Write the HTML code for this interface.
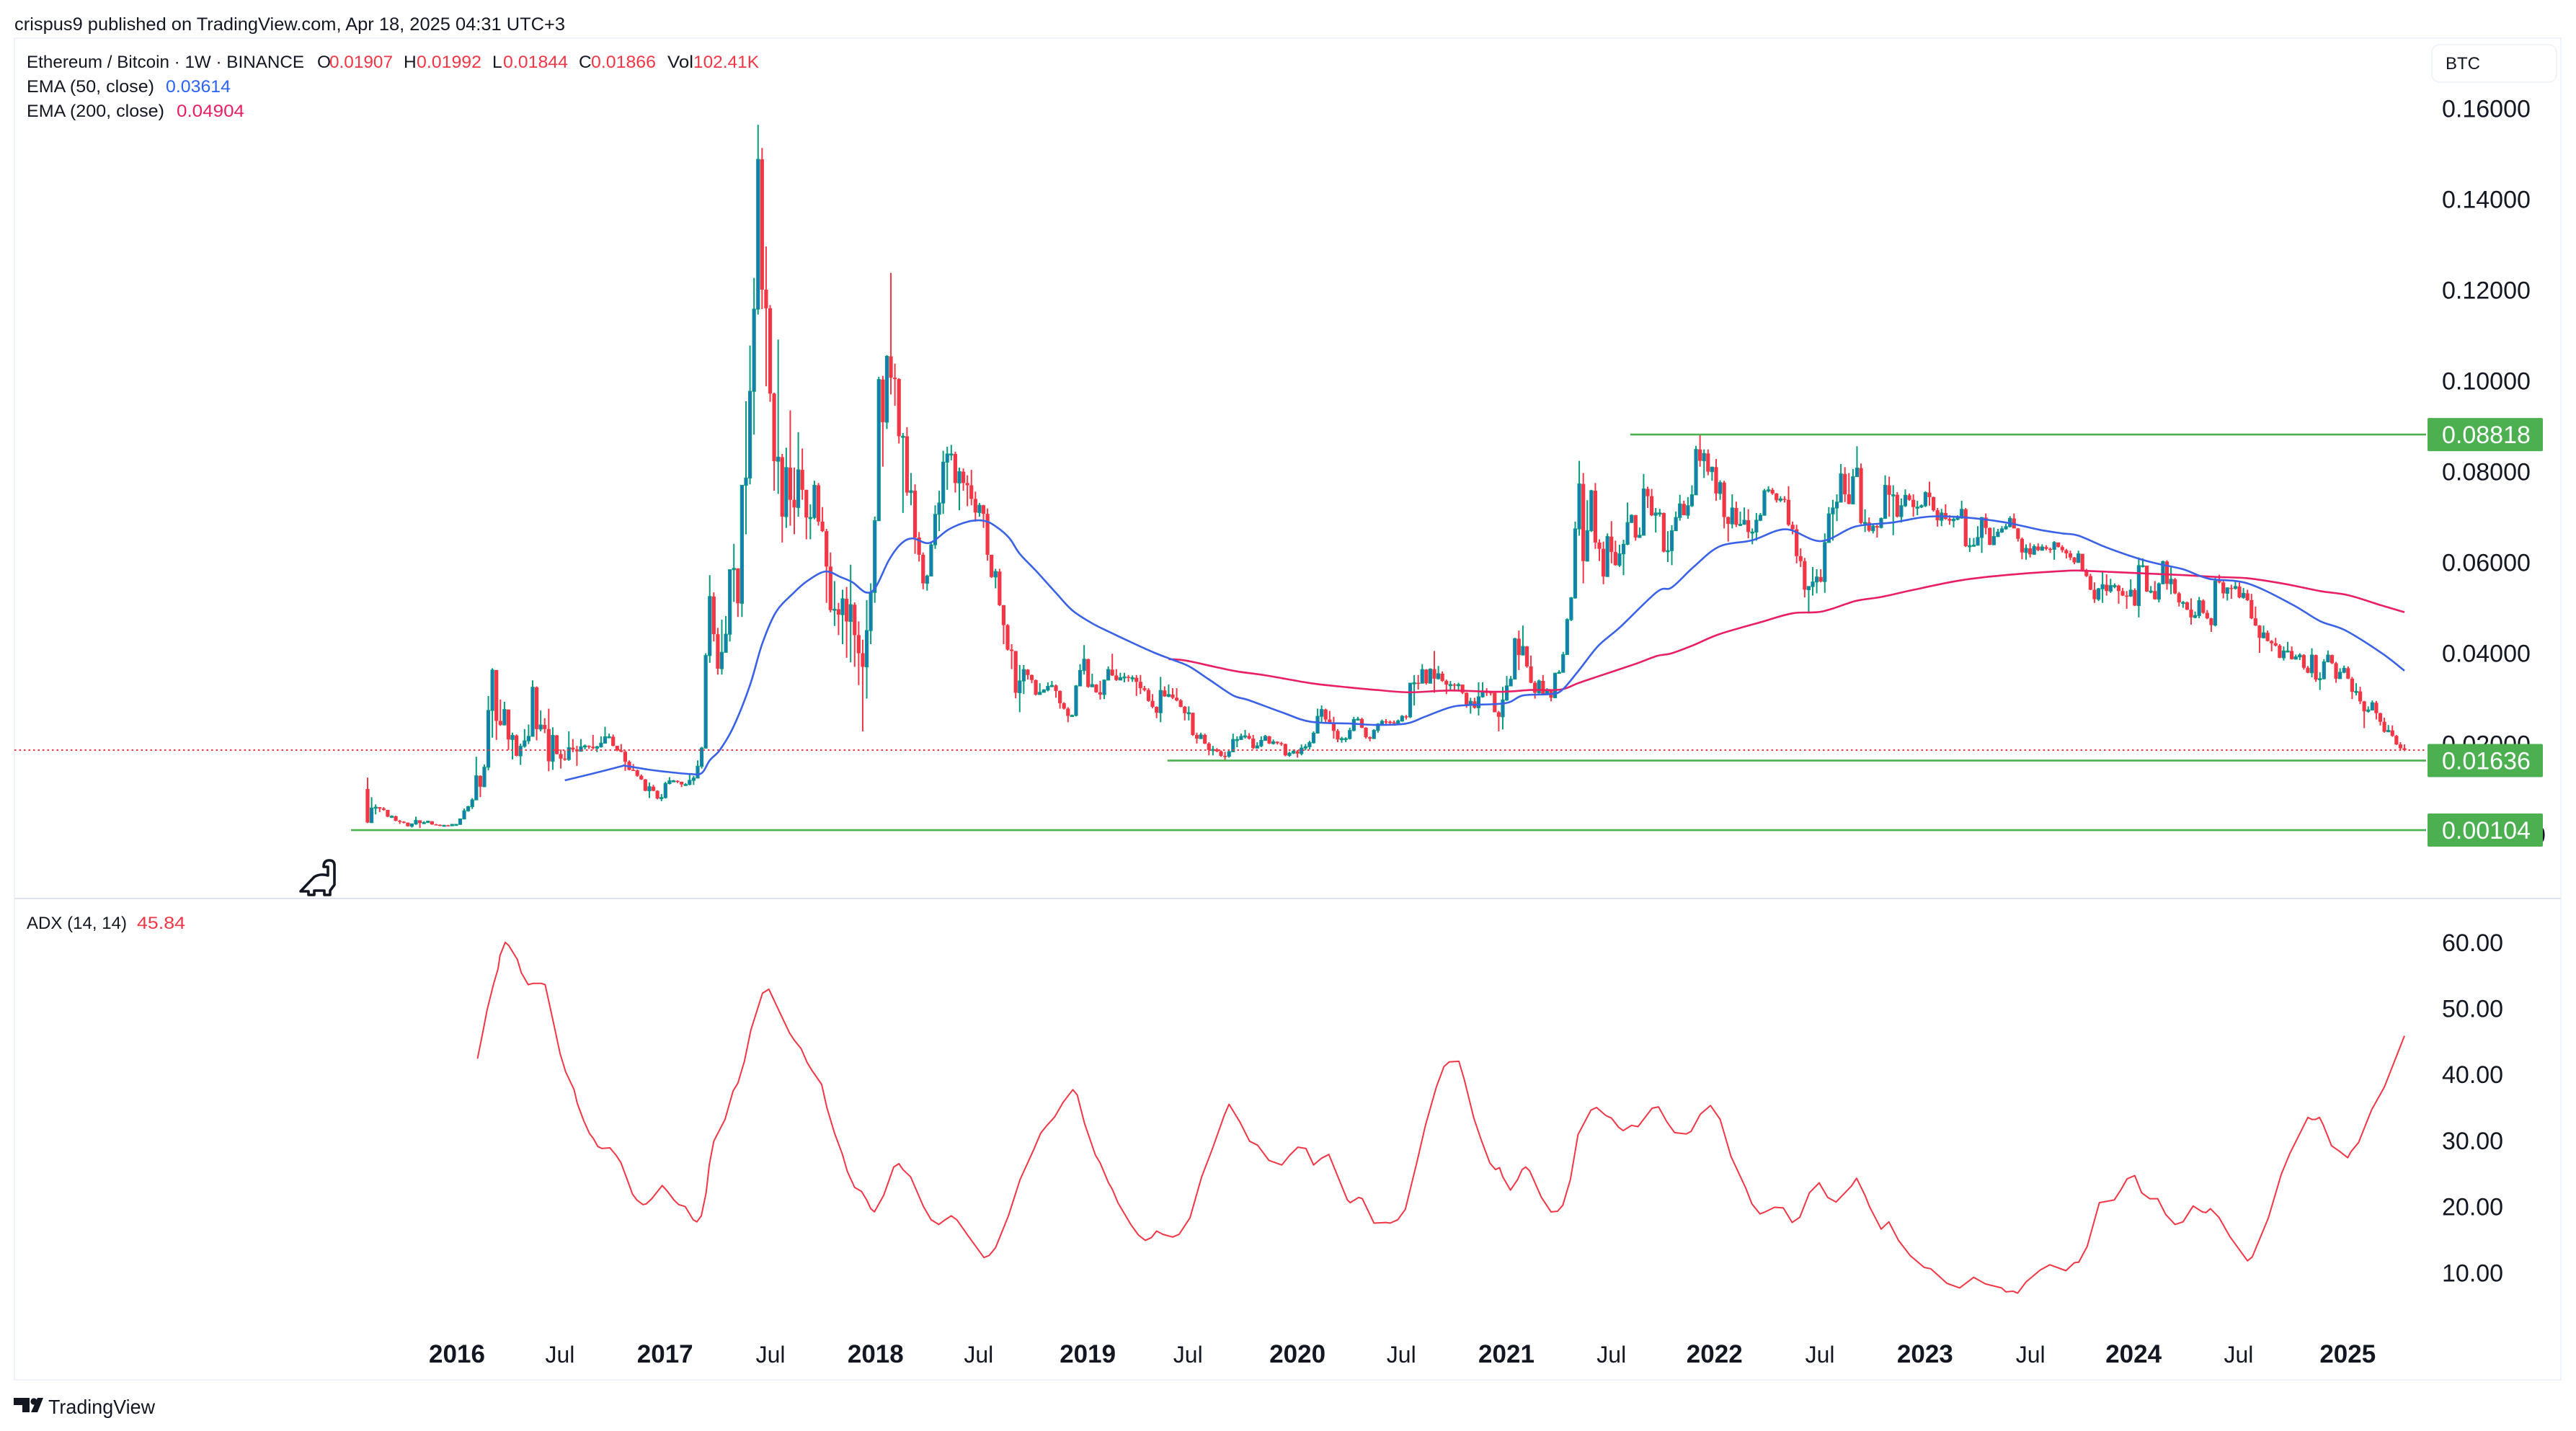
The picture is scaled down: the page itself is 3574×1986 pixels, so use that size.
<!DOCTYPE html>
<html lang="en">
<head>
<meta charset="utf-8">
<title>Ethereum / Bitcoin weekly chart</title>
<style>
html,body{margin:0;padding:0;background:#fff}
svg{display:block}
text{font-family:"Liberation Sans",sans-serif;fill:#131722}
</style>
</head>
<body>
<svg id="chart" width="3574" height="1986" viewBox="0 0 3574 1986" xmlns="http://www.w3.org/2000/svg">
  <rect x="0" y="0" width="3574" height="1986" fill="#ffffff"/>
  <rect x="20" y="53" width="3533" height="1862" fill="none" stroke="#f0f3fa" stroke-width="2"/>
  <line x1="20" y1="1247" x2="3553" y2="1247" stroke="#e0e3eb" stroke-width="2"/>

  <text x="20" y="42" font-size="25" textLength="764" lengthAdjust="spacingAndGlyphs">crispus9 published on TradingView.com, Apr 18, 2025 04:31 UTC+3</text>

  <g font-size="24.5">
    <text x="37" y="94" textLength="385" lengthAdjust="spacingAndGlyphs">Ethereum / Bitcoin · 1W · BINANCE</text>
    <text x="440" y="94">O</text>
    <text x="457" y="94" style="fill:#f23645" textLength="88" lengthAdjust="spacingAndGlyphs">0.01907</text>
    <text x="560" y="94">H</text>
    <text x="578" y="94" style="fill:#f23645" textLength="90" lengthAdjust="spacingAndGlyphs">0.01992</text>
    <text x="683" y="94">L</text>
    <text x="698" y="94" style="fill:#f23645" textLength="90" lengthAdjust="spacingAndGlyphs">0.01844</text>
    <text x="803" y="94">C</text>
    <text x="820" y="94" style="fill:#f23645" textLength="90" lengthAdjust="spacingAndGlyphs">0.01866</text>
    <text x="926" y="94" textLength="36" lengthAdjust="spacingAndGlyphs">Vol</text>
    <text x="962" y="94" style="fill:#f23645" textLength="91" lengthAdjust="spacingAndGlyphs">102.41K</text>
    <text x="37" y="128" textLength="177" lengthAdjust="spacingAndGlyphs">EMA (50, close)</text>
    <text x="230" y="128" style="fill:#2962ff" textLength="90" lengthAdjust="spacingAndGlyphs">0.03614</text>
    <text x="37" y="162" textLength="191" lengthAdjust="spacingAndGlyphs">EMA (200, close)</text>
    <text x="245" y="162" style="fill:#e91e63" textLength="94" lengthAdjust="spacingAndGlyphs">0.04904</text>
  </g>

  <g font-size="24.5">
    <text x="37" y="1289" textLength="139" lengthAdjust="spacingAndGlyphs">ADX (14, 14)</text>
    <text x="190" y="1289" style="fill:#f23645" textLength="67" lengthAdjust="spacingAndGlyphs">45.84</text>
  </g>

  <g>
    <rect x="3374" y="62" width="173" height="52" rx="11" fill="#ffffff" stroke="#f0f3fa" stroke-width="2"/>
    <text x="3393" y="96" font-size="24">BTC</text>
  </g>

  <g id="priceAxis"></g>
  <g id="adxAxis"></g>
  <g id="timeAxis"></g>

  <g id="candles"></g>
  <g id="lastPrice"></g>
  <g id="emaLines"></g>
  <g id="levels"></g>
  <g id="adxPane"></g>

  <path d="M417 1237 L436 1217 Q444 1212 455 1215 L455 1203 L449 1203 Q449 1194 457 1194 Q464 1194 464 1201 L464 1228 L458 1236 L458 1242 L450 1242 L450 1236 L436 1236 L436 1242 L428 1242 L428 1237 Z" fill="none" stroke="#131722" stroke-width="3.6" stroke-linejoin="round"/>

  <g>
    <path d="M19 1940 H41 V1960 H31 V1950 H19 Z M52 1940 H60 L52 1960 H43 Z" fill="#131722"/>
    <circle cx="47" cy="1945" r="4.6" fill="#131722"/>
    <text x="67" y="1962" font-size="28" textLength="148" lengthAdjust="spacingAndGlyphs">TradingView</text>
  </g>
</svg>

<script>
// Weekly ETH/BTC candles, prices in units of 0.0001 BTC. Open of a bar is the previous close.
const firstOpen = 101;
const closes = [
27,59,61,58,55,40,41,31,29,27,
19,24,32,26,27,30,23,22,21,21,
20,23,23,35,53,62,77,130,106,149,
274,363,251,242,276,210,219,174,195,207,
217,325,233,242,233,162,219,178,168,166,
192,188,184,194,196,194,191,194,202,216,
216,196,186,183,161,143,142,130,122,97,
106,97,80,82,113,119,119,117,111,111,
120,125,151,191,395,525,442,366,402,442,
584,587,510,770,786,977,1158,1488,1201,1160,
972,823,832,701,809,738,721,804,760,699,
699,770,690,669,591,495,497,485,520,470,
507,440,400,370,450,534,692,1003,909,1054,
1007,1004,878,878,754,758,655,617,554,570,
639,706,731,821,839,839,775,800,775,770,
740,710,726,707,617,568,580,506,462,408,
405,313,339,364,352,341,309,314,319,327,
329,317,290,278,262,263,328,362,387,326,
331,314,309,341,364,351,341,346,348,346,
346,337,323,319,295,282,269,318,305,309,
302,296,282,268,269,220,212,220,201,187,
188,184,174,173,183,210,210,217,218,212,
191,196,208,217,201,205,202,200,175,180,
184,179,191,194,203,224,261,276,254,247,
229,210,212,212,230,254,255,236,215,212,
230,244,250,249,248,246,251,261,260,334,
335,334,364,334,365,344,355,339,331,331,
330,331,313,286,294,280,304,315,314,313,
270,260,297,328,343,432,396,415,371,335,
313,339,311,319,302,356,358,397,474,522,
674,773,603,670,758,644,630,569,657,623,
594,619,640,688,704,655,660,762,746,704,
709,709,624,626,670,699,729,704,725,749,
849,824,840,800,810,752,776,700,685,720,
683,684,693,667,667,693,704,758,760,752,
737,740,738,683,673,614,603,540,547,557,
568,558,644,707,720,733,795,750,729,789,
808,687,688,670,680,677,697,770,749,749,
701,725,748,738,722,722,725,754,744,715,
693,709,696,692,695,698,717,636,637,638,
655,699,676,639,657,667,674,679,697,675,
652,622,631,618,635,627,634,630,629,644,
634,627,620,611,600,619,582,570,540,519,
542,551,537,549,549,537,527,526,539,505,
593,593,536,537,519,553,602,553,563,532,
512,512,496,479,483,516,489,477,462,559,
556,532,544,543,547,523,532,517,477,461,
434,445,427,422,417,390,405,405,387,392,
396,368,357,396,342,344,381,396,378,344,
358,367,344,315,316,294,272,275,291,268,
249,227,230,218,199,190.7,186.6
];
const highs = [
126,83,67,61,61,55,43,42,33,30,
27,25,40,32,30,31,30,24,23,22,
22,24,24,36,58,64,81,172,131,155,
306,367,363,298,293,276,225,221,201,233,
243,340,327,274,257,278,237,220,188,186,
228,211,196,211,199,197,220,196,217,238,
223,221,195,200,186,164,156,144,133,123,
115,110,98,90,117,127,121,120,117,114,
133,130,164,194,400,572,534,456,474,482,
584,641,587,770,955,1078,1227,1564,1513,1296,
1167,974,1091,839,853,935,809,887,851,760,
728,780,775,722,674,622,559,511,540,546,
595,512,470,430,517,554,701,1009,1011,1057,
1238,1038,1006,885,898,797,772,667,622,573,
646,726,758,846,855,859,844,809,807,792,
804,756,731,727,719,617,586,586,504,464,
420,405,374,374,365,353,342,334,321,336,
339,331,318,292,281,265,330,376,418,388,
355,332,339,342,371,399,365,357,357,352,
351,352,352,328,323,310,283,348,327,331,
323,323,299,284,283,269,225,225,223,204,
196,191,186,183,186,223,217,223,231,224,
220,204,217,220,218,210,206,205,201,183,
188,187,199,200,207,228,278,285,278,273,
260,233,216,215,236,260,260,258,237,217,
233,246,254,255,252,252,254,264,264,335,
352,352,376,365,367,405,372,360,342,339,
334,335,331,314,302,302,336,336,323,315,
310,273,326,350,350,434,450,461,416,395,
339,342,352,323,318,357,363,403,477,524,
690,824,797,737,760,775,651,646,664,691,
648,639,650,732,706,705,677,795,767,762,
720,718,710,669,682,712,749,736,744,770,
857,882,849,849,811,828,781,780,701,750,
734,712,721,717,675,709,709,762,768,764,
753,746,746,768,690,683,631,610,548,590,
585,585,664,722,738,750,817,810,797,806,
856,818,717,699,683,683,699,792,789,770,
755,741,761,752,750,736,728,757,778,745,
720,718,728,704,699,704,736,720,654,654,
680,700,708,677,677,674,680,685,702,708,
676,655,640,643,640,642,640,638,633,647,
644,638,630,626,612,626,619,586,575,556,
544,582,574,564,554,551,544,537,563,543,
611,609,593,548,559,556,604,605,589,566,
535,515,514,521,492,524,519,495,478,570,
573,559,545,551,561,556,544,540,531,503,
462,461,450,429,434,420,415,425,415,397,
400,398,372,411,397,358,387,406,397,381,
367,373,371,348,334,326,295,283,296,295,
269,258,242,241,220,204,199.2
];
const lows = [
26,26,45,50,53,39,37,30,24,25,
18,16,22,15,26,27,22,22,19,20,
19,19,20,22,34,51,57,77,83,105,
142,214,209,240,242,187,166,173,154,192,
200,216,208,228,224,140,143,177,146,163,
163,182,152,184,188,189,188,182,192,201,
214,195,184,182,141,142,141,128,121,96,
81,96,78,74,80,111,118,114,105,108,
109,110,125,146,190,379,426,353,353,402,
426,513,480,480,662,772,882,1146,1158,988,
954,758,751,644,676,681,662,701,738,651,
651,695,681,667,511,490,460,440,420,390,
380,370,330,228,300,420,511,692,811,894,
970,945,862,709,747,726,619,602,541,538,
570,630,669,707,760,825,754,715,758,724,
726,690,701,676,604,566,543,504,420,406,
365,301,270,310,342,334,307,309,313,316,
325,302,278,276,248,262,261,341,353,324,
326,313,298,299,340,350,339,341,336,337,
337,306,310,316,293,279,257,248,304,303,
299,294,281,252,252,218,201,211,200,175,
175,182,172,162,170,182,193,209,212,210,
189,191,193,207,200,199,199,196,173,172,
178,170,175,186,188,201,223,249,248,245,
212,204,203,204,210,228,254,235,212,206,
212,225,241,244,244,244,244,249,254,257,
285,320,334,331,334,313,342,337,310,320,
318,319,310,280,267,278,263,302,306,307,
270,228,232,295,328,344,363,396,368,334,
300,311,309,309,294,301,355,381,397,471,
520,659,554,602,667,630,603,552,569,598,
593,590,572,638,687,648,654,659,720,702,
666,701,622,601,594,670,692,704,696,722,
749,811,786,792,780,736,738,675,646,675,
678,680,683,653,640,648,691,703,754,749,
732,733,732,680,662,598,590,523,491,527,
532,556,533,643,648,691,732,733,728,728,
789,684,667,667,664,655,675,696,701,660,
699,688,722,736,701,704,720,722,725,712,
679,680,694,683,677,693,696,634,623,637,
637,621,662,638,639,656,665,672,677,675,
646,607,606,611,617,625,626,627,621,606,
633,622,609,605,596,600,581,568,539,511,
515,511,527,533,543,509,526,498,524,504,
479,589,535,532,518,512,552,540,530,530,
503,500,495,463,477,477,487,475,447,459,
554,521,516,520,540,521,520,515,475,460,
401,433,426,404,415,389,384,402,386,386,
385,364,356,347,337,319,342,380,376,335,
343,356,343,299,307,288,235,269,274,254,
241,225,226,216,198,186,184.4
];

const ema50Weeks = [49,56,63,64,69.5,73,80,83,85,87.6,91,95,98,101.4,105.6,109.2,113.7,117.5,120.5,123.8,126.2,129.5,132.5,135.4,139.6,144.4,149.2,153,155.8,159.4,162,166,171,175,179.6,182.6,189,195.5,200.2,204.1,208.9,215,218.8,227.4,234.3,244.3,250.7,258,262.6,269,273.6,282.7,287,293.6,296.6,300.7,305.7,311.2,320.3,324,329.4,335.8,344,352.3,361,369.6,378.8,387.9,397,407,415.3,421,425,432,439.7,444.8,451,457.5,467,478,485,491.4,500.4,506];
const ema50Values = [120,135,151,152,144,140,134,136,164,188,240,330,420,490,531,559,580,568,556,534,545,605,641,653,643,673,690,692,681,654,619,582,533,495,468,454,427,401,385,371,343,307,297,269,249,245,242,245,260,281,286,290,307,310,318,360,416,458,535,545,590,635,649,673,647,679,688,701,699,688,672,664,659,633,609,597,585,564,554,508,471,450,400,361.4];
const ema200Weeks = [199,203.2,210.5,216,223.3,234.3,243.4,250.7,258.9,269,280.9,289.1,296.4,300.7,305.7,314.8,320.3,324,329.4,335.8,345.9,354,361.4,369.6,376,384.2,396,408,421,425.6,438.4,451.2,459.5,467.1,476.7,485,492,499.7,506];
const ema200Values = [387,384,370,360,351,334,325,319,314,318,315,319,320,334,349,376,394,400,418,442,468,488,492,515,524,540,561,573,581,582,577,572,568,565,552,537,528,507,490.4];

const adxWeeks = [27.3,28.6,29.7,31.3,32.4,32.9,34.2,35.1,37.2,38.2,39.9,41.2,43.1,44.1,46.2,47.8,49.2,51.3,52.1,53.7,55.1,56.1,57.2,58.2,60.2,61.7,62.9,64.5,65.8,66.9,68.4,69.2,70.6,73.2,74.5,76.1,77.3,78.9,80.9,81.8,82.9,84.1,84.9,86,88.8,90.8,92,93.6,95.2,98.1,99.7,101.3,104.8,106.1,107.7,109.2,110.4,112.8,114.1,116,117.9,119.2,121,122.7,124,125,125.9,128.2,130.7,132,133,134.9,138.1,140,141.9,143.2,145,146.4,149.3,153.1,154.4,156,159.2,162.1,165.6,167.2,168.5,170.7,172.8,175.2,176.3,178.1,180.8,182,184,185.1,186.4,189.6,191.5,193.2,194.7,196,197.6,200,201.6,204.3,207.2,209.9,212.8,214,216.7,219.1,221.1,223.9,227.1,229.1,231.1,233.1,235,236.9,238.8,243.4,244.1,246.2,247.1,250,253,254,255.9,257.8,260.7,262.8,265.5,267.4,268.7,271.1,272.4,274.8,276.7,278.8,280.2,281.2,282,283.9,285.7,286.8,287.7,288.7,291.6,294,295.6,296.9,298.8,300.7,303.9,305.3,307.6,309,310.8,311.9,314,315.6,319.1,320.7,322.8,324.7,327.6,328.8,331.1,333.6,336,338.7,342.3,343.9,345.9,347.2,349.5,351.7,353.9,355.8,358.2,360.6,362.7,364.8,368.6,369.9,372,373.1,376,377.9,380.3,383.2,386.7,388.3,390.7,392.3,395.5,399,401.9,405.9,407,408.8,409.9,412,415.5,417.9,421.9,424,425.1,427.2,430.2,433.9,435.5,437.1,439,440.7,442.7,444.7,446.7,449,451,453.5,455.8,456.7,457.8,459.9,462.6,467,468.2,472.2,475.4,477.5,479.4,482,483,483.9,484.9,485.8,487.9,489.8,491.9,492.7,494.6,497.8,501,506];
const adxValues = [42.4,46.3,49.8,53.7,56,58,60,59.5,57.4,55.4,53.6,53.8,53.8,53.6,47.8,43.2,40.4,37.7,35.6,33,31.1,30.3,29.1,28.8,28.9,27.8,26.7,24.1,21.9,21,20.3,20.4,21.2,23.2,22.3,21,20.3,20,18,17.7,18.6,22.1,26.4,29.9,33.2,37.5,38.7,42,46.7,52.3,52.9,50.8,46.3,45.1,43.9,41.8,40.6,38.5,35,31.1,28,25.3,22.9,22.3,21,19.7,19.2,21.7,26,26.5,25.6,24.5,20,18,17.3,17.9,18.6,18,15.5,12.3,12.6,13.8,18.6,24.1,28.8,31.1,32.1,33.6,35.8,37.7,36.9,32.6,27.8,26.6,23.7,22.5,20.6,17.3,15.7,14.9,15.3,16.3,15.8,15.4,15.8,18.3,24.5,28.8,33.8,35.5,32.8,29.9,29.3,27,26.3,27.8,29,28.8,26.3,27.3,27.9,21,20.6,21.4,21.2,17.5,17.6,17.5,18,19.6,26.8,32.3,38.1,41.2,41.9,42,39.3,33.4,30,26.6,25.6,25.9,24.5,22.5,24.1,25.6,26,25.4,21.4,19.2,19.3,20.2,24.1,30.9,34.6,35,33.8,33.4,32,31.5,32.3,32.1,34.9,35.1,32.8,31.2,31,31.4,34,35.3,33.2,27.6,22.9,20.4,18.9,19.2,19.9,19.8,17.6,18.4,22.1,23.6,21.4,20.7,23.1,24.3,21.7,20,16.6,17.7,14.9,12.6,10.8,10.6,9.3,8.4,7.7,9.3,8.3,7.7,7.1,7.2,6.9,8.6,10.4,11.2,10.3,11.5,11.6,14,20.6,21,22.5,24.2,24.7,22.1,21.2,21.2,18.8,17.3,17.7,20.1,19.2,19.1,19.7,18.4,15.5,11.8,12.4,18.3,24.9,28,30.3,33.5,33.2,33.2,33.5,32.4,29.2,28.4,27.4,28.3,29.7,34.6,38.1,45.84];

const priceTicks = [0.16,0.14,0.12,0.10,0.08,0.06,0.04,0.02,0];
const adxTicks = [60,50,40,30,20,10];
const timeLabels = ["2016","Jul","2017","Jul","2018","Jul","2019","Jul","2020","Jul","2021","Jul","2022","Jul","2023","Jul","2024","Jul","2025"];
const timeWeeks = [22.2,47.8,73.9,100.1,126.2,151.8,178.9,203.8,231,256.8,282.9,309,334.6,360.8,386.9,413.1,438.7,464.8,491.9];
const levelPrices = [0.08818,0.01636,0.00104];
const levelStartWeeks = [313.7,198.7,-4.1];
const lastClose = 0.01866;
const priceUnit = 0.0001;

const NS = "http://www.w3.org/2000/svg";
function xScale(week){ return 510 + 5.585 * week; }
function yPrice(p){ return 1158.6 - 6300 * p; }
function yAdx(v){ return 1858 - 9.17 * v; }
function make(tag, attrs, parent){
  const el = document.createElementNS(NS, tag);
  for (const k in attrs) el.setAttribute(k, attrs[k]);
  parent.appendChild(el);
  return el;
}

// price axis
const priceAxis = document.getElementById("priceAxis");
priceTicks.forEach(function(t){
  const label = make("text", {x: t === 0 ? 3409 : 3388, y: yPrice(t) + 12, "font-size": 34}, priceAxis);
  
  
  label.textContent = t.toFixed(5);
});

// adx axis
const adxAxis = document.getElementById("adxAxis");
adxTicks.forEach(function(t){
  const label = make("text", {x: 3388, y: yAdx(t) + 12, "font-size": 34}, adxAxis);
  
  
  label.textContent = t.toFixed(2);
});

// time axis
const timeAxis = document.getElementById("timeAxis");
timeLabels.forEach(function(t, i){
  const isYear = t !== "Jul";
  const label = make("text", {x: xScale(timeWeeks[i]), y: 1891, "text-anchor": "middle", "font-size": isYear ? 35 : 32, "font-weight": isYear ? "bold" : "normal"}, timeAxis);
  
  
  label.textContent = t;
});

// candles
const candleGroup = document.getElementById("candles");
closes.forEach(function(close, i){
  const open = i === 0 ? firstOpen : closes[i - 1];
  const up = close >= open;
  const hi = Math.max(highs[i], open, close);
  const lo = Math.min(lows[i], open, close);
  const cx = xScale(i);
  const wickColor = up ? "#089981" : "#f23645";
  const wick = make("line", {x1: cx, x2: cx, y1: yPrice(hi * priceUnit), y2: yPrice(lo * priceUnit), stroke: wickColor, "stroke-width": 2}, candleGroup);
  
  
  const top = yPrice(Math.max(open, close) * priceUnit);
  const bottom = yPrice(Math.min(open, close) * priceUnit);
  const h = Math.max(bottom - top, 1.5);
  const attrs = up
    ? {x: cx - 2, y: top, width: 4, height: h, fill: "#1a78bc", stroke: "#089981", "stroke-width": 1.2}
    : {x: cx - 2.6, y: top, width: 5.2, height: h, fill: "#f23645"};
  const body = make("rect", attrs, candleGroup);
  
  
});

// last price line
const lastPriceGroup = document.getElementById("lastPrice");
const lastLine = make("line", {x1: 20, x2: 3366, y1: yPrice(lastClose), y2: yPrice(lastClose), stroke: "#f23645", "stroke-width": 2, "stroke-dasharray": "2.5 4"}, lastPriceGroup);



// straight polyline through readings (ADX)
function seriesPath(weeks, values, yFn, scale){
  return weeks.map(function(w, i){
    return (i ? "L" : "M") + xScale(w).toFixed(1) + " " + yFn(values[i] * scale).toFixed(1);
  }).join(" ");
}
// smoothed curve through readings (EMAs)
function smoothPath(weeks, values, yFn, scale){
  const px = weeks.map(xScale);
  const py = values.map(function(v){ return yFn(v * scale); });
  let d = "M" + px[0].toFixed(1) + " " + py[0].toFixed(1);
  for (let i = 0; i < px.length - 1; i++){
    const a = Math.max(i - 1, 0), b = Math.min(i + 2, px.length - 1);
    const c1x = px[i] + (px[i + 1] - px[a]) / 6, c1y = py[i] + (py[i + 1] - py[a]) / 6;
    const c2x = px[i + 1] - (px[b] - px[i]) / 6, c2y = py[i + 1] - (py[b] - py[i]) / 6;
    d += " C" + c1x.toFixed(1) + " " + c1y.toFixed(1) + " " + c2x.toFixed(1) + " " + c2y.toFixed(1) + " " + px[i + 1].toFixed(1) + " " + py[i + 1].toFixed(1);
  }
  return d;
}
const emaGroup = document.getElementById("emaLines");
const ema200Line = make("path", {d: smoothPath(ema200Weeks, ema200Values, yPrice, priceUnit), fill: "none", stroke: "#e91e63", "stroke-width": 2.6, "stroke-linejoin": "round"}, emaGroup);


const ema50Line = make("path", {d: smoothPath(ema50Weeks, ema50Values, yPrice, priceUnit), fill: "none", stroke: "#3a62e8", "stroke-width": 2.6, "stroke-linejoin": "round"}, emaGroup);



// horizontal levels
const levelGroup = document.getElementById("levels");
levelPrices.forEach(function(p, i){
  const y = yPrice(p);
  const line = make("line", {x1: xScale(levelStartWeeks[i]), x2: 3366, y1: y, y2: y, stroke: "#4caf50", "stroke-width": 2.6}, levelGroup);
  
  
  const box = make("rect", {x: 3368, y: y - 23, width: 160, height: 46, rx: 2, fill: "#4caf50"}, levelGroup);
  
  
  const label = make("text", {x: 3388, y: y + 12, "font-size": 34, style: "fill:#ffffff"}, levelGroup);
  
  
  label.textContent = p.toFixed(5);
});

// ADX line
const adxPane = document.getElementById("adxPane");
const adxLine = make("path", {d: seriesPath(adxWeeks, adxValues, yAdx, 1), fill: "none", stroke: "#f23645", "stroke-width": 2, "stroke-linejoin": "round"}, adxPane);


</script>
</body>
</html>
